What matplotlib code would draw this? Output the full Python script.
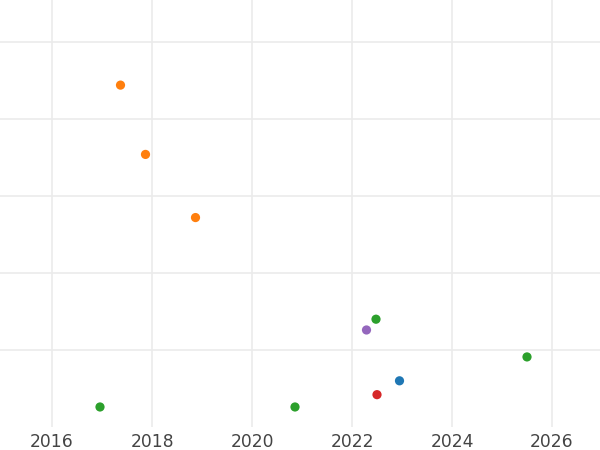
import matplotlib
matplotlib.use("Agg")
import matplotlib.pyplot as plt

# Data (y in arbitrary units; grid lines at 1..5)
years = [2017.37, 2017.87, 2018.87, 2016.96, 2020.86, 2022.48, 2022.29, 2022.95, 2022.50, 2025.50]
values = [4.44, 3.54, 2.72, 0.26, 0.26, 1.40, 1.26, 0.60, 0.42, 0.91]
colors = ["#ff7f0e", "#ff7f0e", "#ff7f0e", "#2ca02c", "#2ca02c", "#2ca02c",
          "#9467bd", "#1f77b4", "#d62728", "#2ca02c"]
xticks = [2016, 2018, 2020, 2022, 2024, 2026]
yticks = [1, 2, 3, 4, 5]

fig = plt.figure(figsize=(6, 4.5), dpi=100)
ax = fig.add_axes([0, 1 - 427 / 450, 1, 427 / 450])

ax.scatter(years, values, c=colors, s=44, linewidths=0, zorder=3)

ax.set_xlim(2014.96, 2026.96)
ax.set_ylim(0, 427 / 77)
ax.set_xticks(xticks)
ax.set_yticks(yticks)
ax.set_yticklabels([])
ax.tick_params(axis="both", which="both", length=0)
ax.tick_params(axis="x", labelsize=12.3, labelcolor="#444444", pad=4.5)
ax.grid(True, which="major", color="#ebebeb", linewidth=1.2)
ax.set_axisbelow(True)
for s in ax.spines.values():
    s.set_visible(False)

fig.savefig("out.png", dpi=100)
